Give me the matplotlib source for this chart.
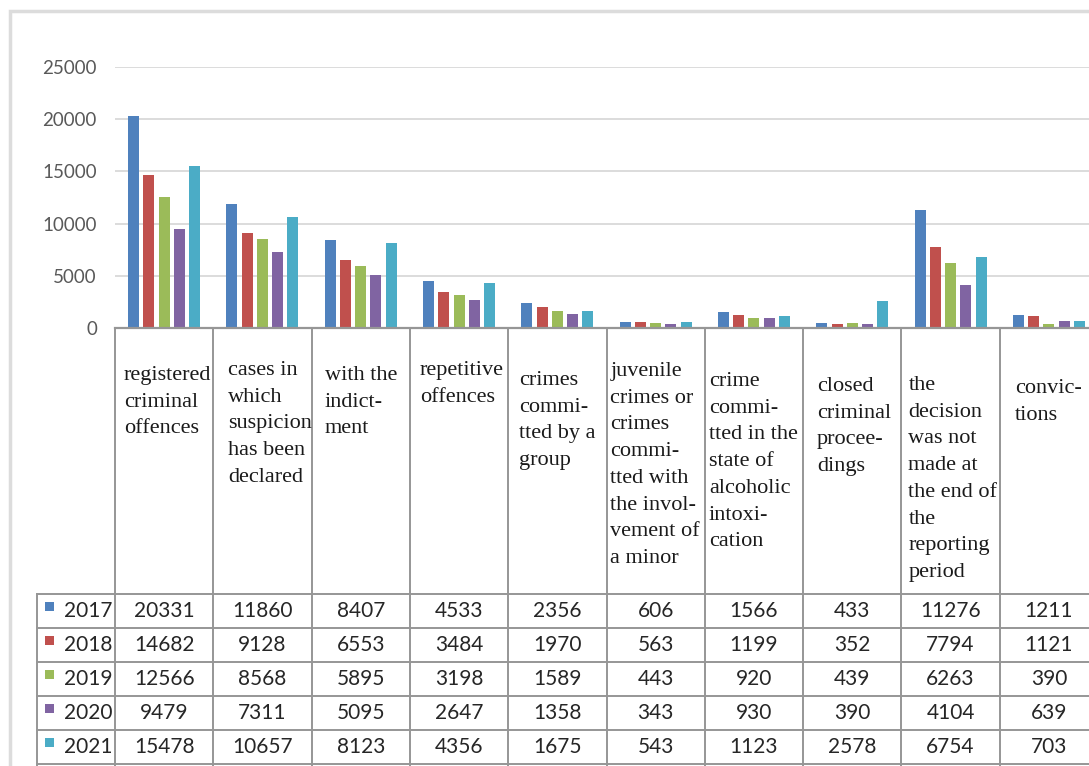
import matplotlib
matplotlib.use("Agg")
import matplotlib.pyplot as plt
from matplotlib.transforms import blended_transform_factory, offset_copy
from matplotlib.patches import Rectangle

# ---------------- data ----------------
categories = [
    "registered\ncriminal\noffences",
    "cases in\nwhich\nsuspicion\nhas been\ndeclared",
    "with the\nindict-\nment",
    "repetitive\noffences",
    "crimes\ncommi-\ntted by a\ngroup",
    "juvenile\ncrimes or\ncrimes\ncommi-\ntted with\nthe invol-\nvement of\na minor",
    "crime\ncommi-\ntted in the\nstate of\nalcoholic\nintoxi-\ncation",
    "closed\ncriminal\nprocee-\ndings",
    "the\ndecision\nwas not\nmade at\nthe end of\nthe\nreporting\nperiod",
    "convic-\ntions",
]
years = ["2017", "2018", "2019", "2020", "2021"]
v2017 = [20331, 11860, 8407, 4533, 2356, 606, 1566, 433, 11276, 1211]
v2018 = [14682, 9128, 6553, 3484, 1970, 563, 1199, 352, 7794, 1121]
v2019 = [12566, 8568, 5895, 3198, 1589, 443, 920, 439, 6263, 390]
v2020 = [9479, 7311, 5095, 2647, 1358, 343, 930, 390, 4104, 639]
v2021 = [15478, 10657, 8123, 4356, 1675, 543, 1123, 2578, 6754, 703]
series = [v2017, v2018, v2019, v2020, v2021]
yticks = [0, 5000, 10000, 15000, 20000, 25000]

# ---------------- style / layout ----------------
colors = ["#4F81BD", "#C0504D", "#9BBB59", "#8064A2", "#4BACC6"]
W, H = 1089, 766
plot_left, plot_top, plot_bottom = 115, 67, 328
col_w = 98.3
row_top, row_h = 594, 34
legend_left = 37
line_col = "#969696"
grid_col = "#D9D9D9"
label_xoff = [9, 15, 13, 10, 11, 4, 4, 14, 7, 15]
label_top = [366, 361, 366, 361, 371, 362, 372, 377, 376, 379]
bar_pitch, bar_w = 0.155, 0.112

fig = plt.figure(figsize=(W / 100, H / 100), dpi=100)
fig.patch.set_facecolor("white")

ax = fig.add_axes([plot_left / W, 1 - plot_bottom / H,
                   len(categories) * col_w / W, (plot_bottom - plot_top) / H])
over = fig.add_axes([0, 0, 1, 1], zorder=5)
over.set_xlim(0, W)
over.set_ylim(H, 0)
over.axis("off")
over.patch.set_alpha(0)

# bars
n = len(categories)
for k, (vals, c) in enumerate(zip(series, colors)):
    xs = [i + 0.5 + (k - 2) * bar_pitch for i in range(n)]
    ax.bar(xs, vals, width=bar_w, color=c, zorder=3, linewidth=0)

ax.set_xlim(0, n)
ax.set_ylim(0, 25000)
ax.set_yticks(yticks)
ax.set_yticklabels([str(t) for t in yticks], fontfamily="Lato",
                   fontsize=13.5, color="#595959")
ax.tick_params(axis="y", length=0, pad=13)
ax.set_xticks([])
ax.yaxis.grid(True, color=grid_col, linewidth=1.3, zorder=0)
for s in ax.spines.values():
    s.set_visible(False)
ax.patch.set_alpha(0)

# outer chart frame
over.plot([10, 10, W + 5], [H + 5, 11, 11], color="#DCDCDC", lw=2.5,
          clip_on=False, solid_joinstyle="miter")

bt = blended_transform_factory(ax.transData, over.transData)

# table grid
for i in range(n + 1):
    over.plot([i, i], [plot_bottom, H + 10], transform=bt, color=line_col,
              lw=1.4, clip_on=False)
over.plot([0, n], [plot_bottom, plot_bottom], transform=bt, color=line_col,
          lw=1.6, clip_on=False)
for r in range(len(years) + 1):
    y = row_top + r * row_h
    over.plot([legend_left, W + 10], [y, y], color=line_col, lw=1.4,
              clip_on=False)
over.plot([legend_left, legend_left], [row_top, H + 10], color=line_col,
          lw=1.4, clip_on=False)

# header labels
for i, lab in enumerate(categories):
    tr = offset_copy(bt, fig=fig, x=label_xoff[i], y=0, units="dots")
    over.text(i, label_top[i], lab, transform=tr, ha="left", va="top",
              fontfamily="Liberation Serif", fontsize=16, linespacing=1.55,
              color="#1a1a1a", clip_on=False)

# data rows
for r, (yr, vals, c) in enumerate(zip(years, series, colors)):
    yc = row_top + r * row_h + row_h / 2
    over.add_patch(Rectangle((45, yc - 9), 8.5, 8.5, facecolor=c,
                             edgecolor="none"))
    over.text(64, yc, yr, ha="left", va="center", fontfamily="Lato",
              fontsize=15, color="#262626")
    for i, v in enumerate(vals):
        over.text(i + 0.5, yc, str(v), transform=bt, ha="center",
                  va="center", fontfamily="Lato", fontsize=15,
                  color="#262626")

fig.savefig("out.png", dpi=100, facecolor="white")
